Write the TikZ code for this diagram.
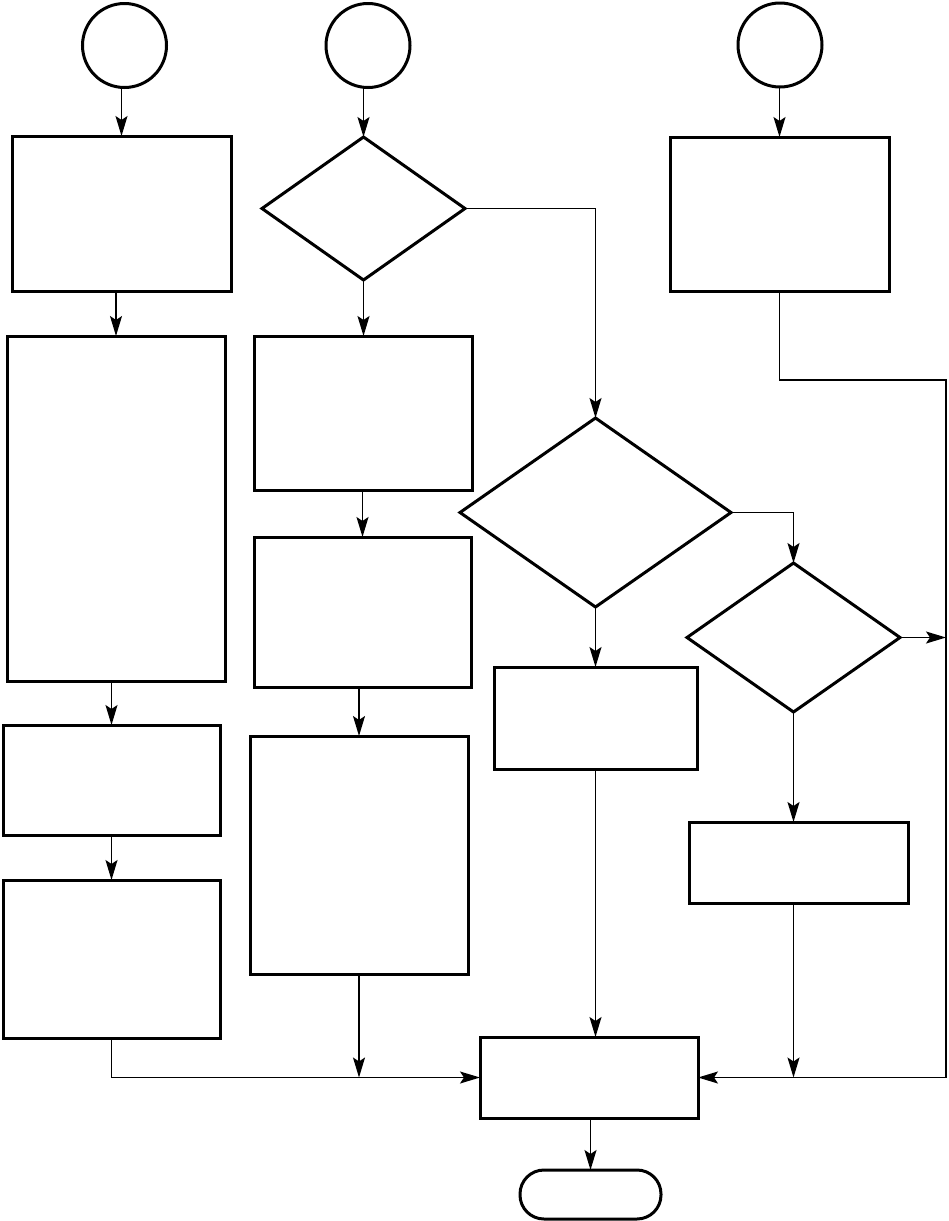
\documentclass[tikz,border=0pt]{standalone}
\usetikzlibrary{shapes.geometric,arrows.meta}
\begin{document}
\begin{tikzpicture}[x=1pt,y=-1pt,
  box/.style={draw,line width=3pt,rectangle,inner sep=0pt,outer sep=0pt},
  dia/.style={draw,line width=3pt,diamond,inner sep=0pt,outer sep=0pt},
  circ/.style={draw,line width=3pt,circle,inner sep=0pt,outer sep=0pt,minimum size=84pt},
  term/.style={draw,line width=3pt,rectangle,rounded corners=24pt,inner sep=0pt,outer sep=0pt},
  conn/.style={line width=1.4pt,-{Stealth[length=20pt,width=12pt,inset=4pt]}},
  plain/.style={line width=1.4pt}]
\useasboundingbox (0,0) rectangle (949,1221);
% start circles
\node[circ] (c1) at (124.5,45.5) {};
\node[circ] (c2) at (368,45.5) {};
\node[circ] (c3) at (780,45) {};
% column A
\node[box,minimum width=219pt,minimum height=155pt] (A1) at (121.5,213.5) {};
\node[box,minimum width=218pt,minimum height=345pt] (A2) at (116,508.5) {};
\node[box,minimum width=217pt,minimum height=110pt] (A3) at (111.5,780) {};
\node[box,minimum width=217pt,minimum height=158pt] (A4) at (111.5,959) {};
% column B
\node[dia,minimum width=203pt,minimum height=143pt] (D1) at (363.5,208.5) {};
\node[box,minimum width=218pt,minimum height=154pt] (B1) at (363,413) {};
\node[box,minimum width=217pt,minimum height=150pt] (B2) at (362.5,612) {};
\node[box,minimum width=218pt,minimum height=238pt] (B3) at (359,855) {};
% column C / right
\node[box,minimum width=219pt,minimum height=154pt] (C1) at (779.5,214) {};
\node[dia,minimum width=271pt,minimum height=189pt] (D2) at (595.5,512.5) {};
\node[box,minimum width=203pt,minimum height=102pt] (E1) at (595.5,718) {};
\node[dia,minimum width=213pt,minimum height=149pt] (D3) at (793.5,637.5) {};
\node[box,minimum width=219pt,minimum height=81pt] (F1) at (798.5,862.5) {};
% end
\node[box,minimum width=218pt,minimum height=81pt] (End) at (589,1077.5) {};
\node[term,minimum width=141pt,minimum height=49pt] (T) at (590.5,1194.5) {};
\coordinate (rtop) at (946,380);
\coordinate (rbot) at (946,1077.5);
% connectors
\draw[conn] (A1.north |- c1.south) -- (A1.north);
\draw[conn] (D1.north |- c2.south) -- (D1.north);
\draw[conn] (C1.north |- c3.south) -- (C1.north);
\draw[conn] (A2.north |- A1.south) -- (A2.north);
\draw[conn] (A3.north |- A2.south) -- (A3.north);
\draw[conn] (A4.north |- A3.south) -- (A4.north);
\draw[conn] (A4.south) |- (End.west);
\draw[conn] (D1.south) -- (D1.south |- B1.north);
\draw[conn] (B2.north |- B1.south) -- (B2.north);
\draw[conn] (B3.north |- B2.south) -- (B3.north);
\draw[conn] (B3.south) -- (B3.south |- End.west);
\draw[conn] (D1.east) -| (D2.north);
\draw[conn] (D2.south) -- (E1.north);
\draw[conn] (E1.south) -- (E1.south |- End.north);
\draw[conn] (D2.east) -| (D3.north);
\draw[conn] (D3.east) -- (D3.east -| rtop);
\draw[conn] (D3.south) -- (D3.south |- F1.north);
\draw[conn] (D3.south |- F1.south) -- (D3.south |- End.east);
\draw[conn] (C1.south) |- (rtop) -- (rbot) -- (End.east);
\draw[conn] (End.south -| T.north) -- (T.north);
\end{tikzpicture}
\end{document}
